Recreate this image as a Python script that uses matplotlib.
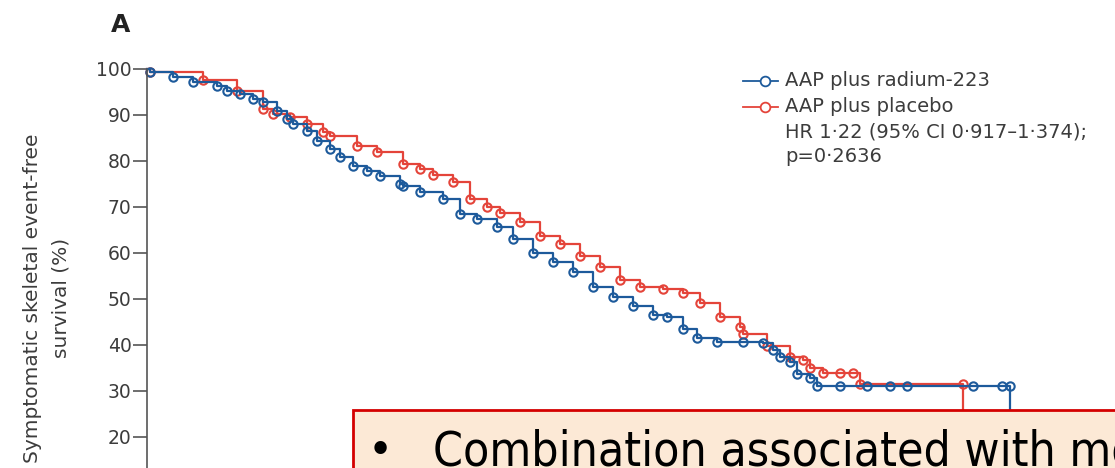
import matplotlib
matplotlib.use("Agg")
import matplotlib.pyplot as plt
from matplotlib.lines import Line2D
from matplotlib.patches import Rectangle

# --- data (months, % event-free) ---
blue_t = [0, 0.15, 1.3, 2.3, 3.5, 4.0, 4.65, 5.3, 5.8, 6.5, 7.0, 7.3, 8.0, 8.5,
          9.15, 9.65, 10.3, 11.0, 11.65, 12.65, 12.8, 13.65, 14.8, 15.65, 16.5,
          17.5, 18.3, 19.3, 20.3, 21.3, 22.3, 23.3, 24.3, 25.3, 26.0, 26.8, 27.5,
          28.5, 29.8, 30.8, 31.3, 31.65, 32.15, 32.5, 33.15, 33.5, 34.65, 36.0,
          37.15, 38.0, 41.3, 42.75, 43.15]
blue_s = [100, 99.3, 98.3, 97.2, 96.3, 95.2, 94.6, 93.5, 92.8, 90.8, 89.1, 88.0,
          86.5, 84.3, 82.6, 80.8, 78.9, 77.8, 76.7, 75.0, 74.5, 73.2, 71.7, 68.4,
          67.3, 65.6, 63.0, 60.1, 58.0, 55.8, 52.7, 50.5, 48.4, 46.6, 46.0, 43.4,
          41.6, 40.7, 40.7, 40.5, 39.0, 37.5, 36.2, 33.6, 32.9, 31.0, 31.0, 31.0,
          31.0, 31.0, 31.0, 31.0, 31.0]
blue_last = 10.0

red_t = [0, 0.15, 2.8, 4.5, 5.8, 6.3, 7.15, 8.0, 8.8, 9.15, 10.5, 11.5, 12.8,
         13.65, 14.3, 15.3, 16.15, 17.0, 17.65, 18.65, 19.65, 20.65, 21.65, 22.65,
         23.65, 24.65, 25.8, 26.8, 27.65, 28.65, 29.65, 29.8, 31.0, 32.15, 32.8,
         33.15, 33.8, 34.65, 35.3, 35.65, 40.8]
red_s = [100, 99.3, 97.6, 95.2, 91.3, 90.2, 89.5, 88.0, 86.3, 85.4, 83.2, 81.9,
         79.3, 78.2, 76.9, 75.4, 71.7, 69.9, 68.8, 66.7, 63.6, 61.9, 59.3, 56.9,
         54.2, 52.7, 52.1, 51.4, 49.2, 46.0, 44.0, 42.3, 39.7, 37.5, 36.8, 35.1,
         34.0, 34.0, 34.0, 31.6, 31.6]
red_last = 15.0

y_ticks = [20, 30, 40, 50, 60, 70, 80, 90, 100]
labels = ["AAP plus radium-223", "AAP plus placebo"]
stats_text = ["HR 1\u00b722 (95% CI 0\u00b7917\u20131\u00b7374);", "p=0\u00b72636"]
box_text = "Combination associated with more"

BLUE = "#1d5a9b"
RED = "#e4443a"
GREY = "#3c3c3c"

plt.rcParams["font.family"] = ["DejaVu Sans"]

W, H = 1115, 468
fig = plt.figure(figsize=(W / 100, H / 100), dpi=100)


def fx(px):
    return px / W


def fy(py):
    return (H - py) / H


# axes: y=100 at 69 px, y=0 at 529 px (below the visible crop)
ax = fig.add_axes([fx(147), fy(529), 1 - fx(147), fy(69) - fy(529)])
ax.set_xlim(0, 48.4)
ax.set_ylim(0, 100)

for t, s, last, col in [(red_t, red_s, red_last, RED), (blue_t, blue_s, blue_last, BLUE)]:
    ax.step(t + [t[-1]], s + [last], where="post", color=col, lw=1.6, clip_on=False)
    ax.plot(t[1:], s[1:], "o", ms=6, mfc="none", mec=col, mew=1.5, clip_on=False)

for sp in ["top", "right", "bottom"]:
    ax.spines[sp].set_visible(False)
ax.spines["left"].set_color("#555555")
ax.spines["left"].set_linewidth(1.2)
ax.set_xticks([])
ax.set_yticks(y_ticks)
ax.tick_params(axis="y", length=10, width=1.2, color="#555555", pad=1,
               labelsize=13.5, labelcolor=GREY)

fig.text(fx(47), fy(298), "Symptomatic skeletal event-free\nsurvival (%)",
         rotation=90, ha="center", va="center", fontsize=14.5, color=GREY,
         linespacing=1.65)
fig.text(fx(121), fy(25), "A", ha="center", va="center", fontsize=18,
         fontweight="bold", color="#222222")

# legend drawn by hand
rows = [81, 107, 132, 157]
for lab, col, yy in zip(labels, [BLUE, RED], rows[:2]):
    fig.add_artist(Line2D([fx(743), fx(765), fx(778)], [fy(yy)] * 3, color=col,
                          lw=1.3, marker="o", ms=7, mfc="white", mec=col,
                          mew=1.3, markevery=[1]))
    fig.text(fx(785), fy(yy), lab, ha="left", va="center", fontsize=14,
             color=GREY)
for txt, yy in zip(stats_text, rows[2:]):
    fig.text(fx(785), fy(yy), txt, ha="left", va="center", fontsize=14,
             color=GREY)

# overlay box at the bottom
fig.add_artist(Rectangle((fx(353), -0.2), 1.0, fy(410) + 0.2,
                         transform=fig.transFigure, facecolor="#fce9d6",
                         edgecolor="#d40000", lw=2, zorder=10))
fig.text(fx(380), fy(465), "\u2022", ha="center", va="baseline", fontsize=34,
         color="black", fontstretch="condensed", zorder=11)
fig.text(fx(433), fy(465), box_text, ha="left", va="baseline", fontsize=34.5,
         color="black", fontstretch="condensed", zorder=11)

fig.savefig("out.png", dpi=100)
